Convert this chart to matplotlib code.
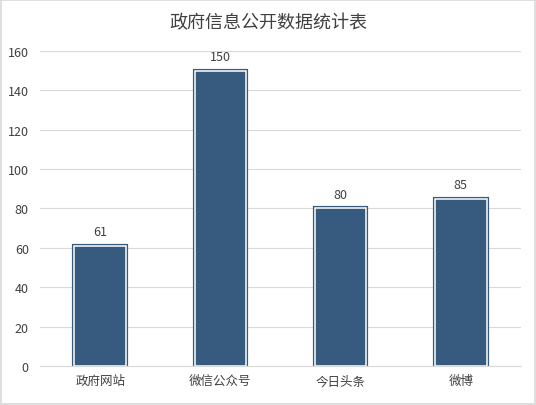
import matplotlib.pyplot as plt
from matplotlib.patches import Rectangle

plt.rcParams['font.family'] = ['Noto Sans CJK SC', 'DejaVu Sans']

# 数据
categories = ['政府网站', '微信公众号', '今日头条', '微博']
values = [61, 150, 80, 85]
yticks = [0, 20, 40, 60, 80, 100, 120, 140, 160]

bar_color = '#375b7e'
text_color = '#404040'
grid_color = '#d9d9d9'

fig = plt.figure(figsize=(5.36, 4.06), dpi=100)
ax = fig.add_axes([0.0746, 0.096, 0.8974, 0.776])

x = list(range(len(categories)))
# 外框(深色)+ 内白线
ax.bar(x, values, width=0.43, color=bar_color, edgecolor=bar_color, linewidth=3.0, zorder=2)
ax.bar(x, values, width=0.43, color=bar_color, edgecolor='white', linewidth=1.1, zorder=3)

for xi, v in zip(x, values):
    ax.text(xi, v + 4, str(v), ha='center', va='bottom', fontsize=9, color=text_color)

ax.set_xlim(-0.5, len(categories) - 0.5)
ax.set_ylim(0, 160)
ax.set_yticks(yticks)
ax.set_xticks(x)
ax.set_xticklabels(categories)
ax.tick_params(axis='both', length=0, labelsize=9, colors=text_color)
ax.tick_params(axis='y', pad=8)
ax.tick_params(axis='x', pad=6)
ax.grid(axis='y', color=grid_color, linewidth=0.8, zorder=0)
for s in ['top', 'right', 'left']:
    ax.spines[s].set_visible(False)
ax.spines['bottom'].set_color(grid_color)
ax.spines['bottom'].set_linewidth(0.8)

fig.text(0.5, 0.943, '政府信息公开数据统计表', ha='center', va='center', fontsize=13, color=text_color)

# 图表外框
fig.patches.append(Rectangle((0.001, 0.002), 0.997, 0.995, transform=fig.transFigure,
                             fill=False, edgecolor='#d9d9d9', linewidth=1.2))

fig.savefig('out.png', dpi=100)
